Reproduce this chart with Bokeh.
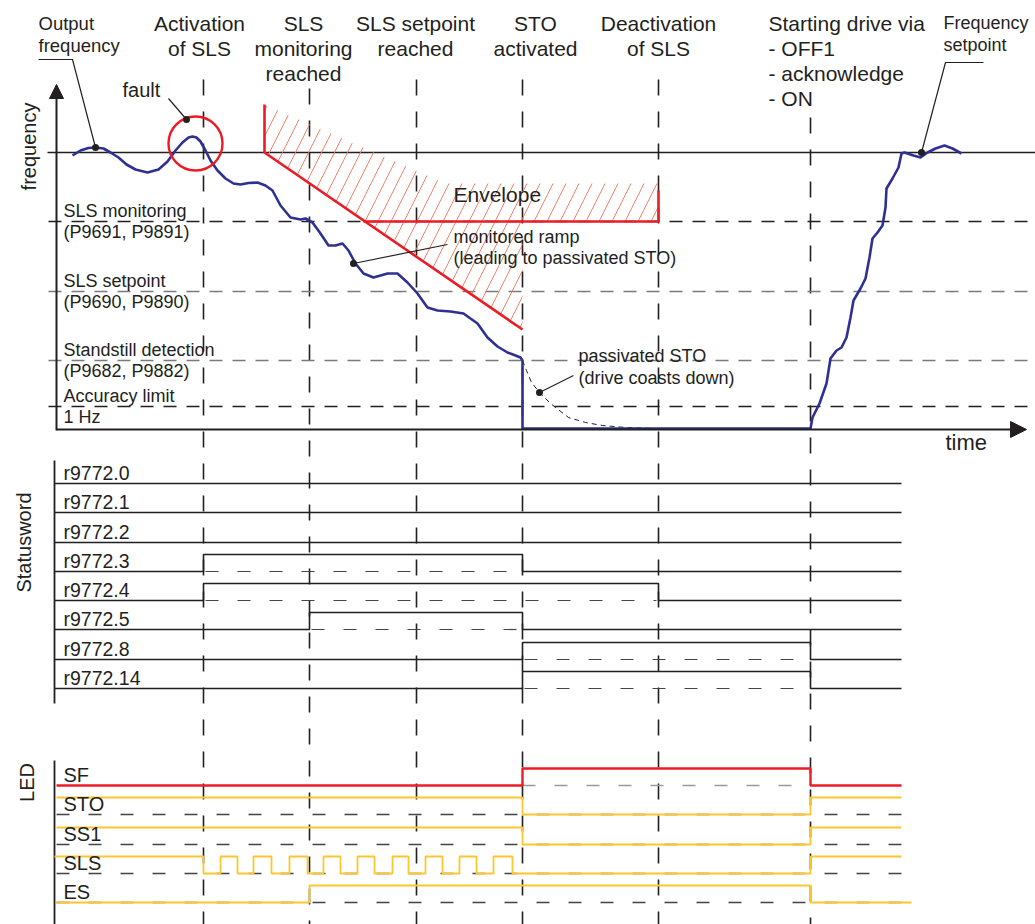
import numpy as np
from bokeh.plotting import figure
from bokeh.models import Range1d, Arrow, NormalHead
from bokeh.core.properties import value
from bokeh.embed import file_html
from bokeh.resources import INLINE

FONT = "Liberation Sans"
TXT = "#231f20"
BLUE = "#2e3192"
RED = "#ed1c24"
YEL = "#fdc52f"
HATCH = "#f47458"

# ---------------- data ----------------
# event instants on the time axis
event_t = [203, 309, 416, 522, 658, 810]
event_start = [79, 88, 79, 79, 79, 117]
t_axis = 56
t_stop = 901

# output frequency trace (time, frequency level)
freq_t = [72, 80, 88, 95, 103, 110, 118, 126, 135, 147, 158, 167, 175, 182, 188, 192, 196, 200,
          205, 210, 217, 225, 233, 240, 248, 257, 265, 272, 280, 290, 300, 305, 312, 320, 328,
          335, 342, 348, 355, 363, 373, 387, 397, 407, 417, 427, 437, 450, 463, 477, 487, 497,
          507, 515, 520, 522, 522, 810, 812, 819, 826, 830, 836, 841, 846, 850, 853, 860, 865,
          869, 872, 877, 882, 885, 886, 892, 898, 901, 904, 913, 920, 927, 935, 944, 952, 961]
freq_f = [155, 150, 147.5, 147, 148, 152, 157, 164, 169, 172, 169, 161, 150, 142, 137, 136, 137,
          141, 150, 160, 170, 178, 183, 184, 182.5, 182, 185, 190, 205, 217, 219, 218, 222, 233,
          245, 245, 243, 250, 263, 273, 277, 273, 273, 282, 293, 307, 310, 311, 313, 323, 337,
          346, 352, 355, 357, 360, 428, 428, 417, 403, 383, 358, 350, 347, 337, 317, 300, 288,
          278, 257, 238, 232, 225, 207, 188, 178, 167, 153, 152, 155, 157, 152, 148, 145, 148, 153]

# coasting (passivated STO)
coast_t = [522, 526, 531, 539, 550, 568, 585, 602, 625, 655]
coast_f = [360, 370, 382, 392, 403, 417, 422, 425, 427, 428]

# frequency levels
f_output = 152
level_names = [["SLS monitoring", "(P9691, P9891)"], ["SLS setpoint", "(P9690, P9890)"],
               ["Standstill detection", "(P9682, P9882)"], ["Accuracy limit", "1 Hz"]]
level_f = [221, 291, 360, 406]
level_col = ["#231f20", "#7a7a7a", "#7a7a7a", "#231f20"]
f_zero = 429

# envelope (monitored ramp)
ramp_t = [264, 264, 522]
ramp_f = [104, 152, 329]
env_t = [363, 658, 658]
env_f = [221, 221, 190]
hatch_t = [264, 445, 658, 658, 522, 522, 264]
hatch_f = [104, 183, 183, 221, 221, 329, 152]

# statusword
status_labels = ["r9772.0", "r9772.1", "r9772.2", "r9772.3", "r9772.4", "r9772.5", "r9772.8", "r9772.14"]
status_row = [483, 512, 542, 571, 600, 629, 659, 688]
status_on = [None, None, None, (203, 522), (203, 658), (309, 522), (522, 810), (522, 810)]
hi = 17

# LEDs: transitions (time, state)
led_labels = ["SF", "STO", "SS1", "SLS", "ES"]
led_row = [785, 814, 844, 873, 902]
led_steps = [
    [(56, 0), (522, 1), (810, 0)],
    [(56, 1), (522, 0), (810, 1)],
    [(56, 1), (522, 0), (810, 1)],
    [(54, 1), (203, 0), (220, 1), (237, 0), (253, 1), (271, 0), (289, 1), (307, 0), (323, 1),
     (340, 0), (357, 1), (374, 0), (392, 1), (408, 0), (425, 1), (442, 0), (459, 1), (476, 0),
     (493, 1), (512, 0), (810, 1)],
    [(56, 0), (309, 1), (810, 0)],
]
led_end = [901, 901, 901, 901, 911]

# ---------------- figure ----------------
W, H = 1035, 924
p = figure(width=W, height=H, x_range=Range1d(0, W), y_range=Range1d(H, 0),
           output_backend="svg", toolbar_location=None, x_axis_location=None,
           y_axis_location=None, min_border=0)
p.grid.visible = False
p.outline_line_color = None
p.background_fill_color = "white"


def txt(xs, ys, texts, size, align="left", baseline="alphabetic", angle=0.0, color=TXT):
    if baseline == "alphabetic":
        ys = [y - 0.38 * size for y in ys]
    p.text(x=xs, y=ys, text=texts, text_font=value(FONT), text_font_size=f"{size}px",
           text_align=align, text_baseline=baseline, text_color=color, angle=angle)


# event dashed verticals
p.multi_line(xs=[[t, t] for t in event_t], ys=[[s, 930] for s in event_start],
             line_color="#231f20", line_width=1.6, line_dash="16 16")

# frequency level dashed lines
for f, c in zip(level_f, level_col):
    p.line([48, 1032], [f, f], line_color=c, line_width=1.3, line_dash="13 10")
p.line([47, 1035], [f_output, f_output], line_color="#231f20", line_width=1.3)

# hatch envelope
p.patch(hatch_t, hatch_f, fill_alpha=0, line_color=None, hatch_pattern="/",
        hatch_color=HATCH, hatch_scale=26, hatch_weight=0.9)
p.line(ramp_t, ramp_f, line_color=RED, line_width=2.6)
p.line(env_t, env_f, line_color=RED, line_width=2.6)

# coast dashed
p.line(coast_t, coast_f, line_color="#231f20", line_width=1, line_dash="5 4")

# frequency trace
p.line(freq_t, freq_f, line_color=BLUE, line_width=2.6, line_join="round")

# fault circle
p.circle(x=[195], y=[143], radius=27, fill_color=None, line_color=RED, line_width=2.4)

# axes with arrows
p.add_layout(Arrow(end=NormalHead(size=14, fill_color="#231f20", line_color="#231f20"),
                   x_start=t_axis, y_start=f_zero + 1, x_end=t_axis, y_end=84,
                   line_width=2, line_color="#231f20"))
p.add_layout(Arrow(end=NormalHead(size=16, fill_color="#231f20", line_color="#231f20"),
                   x_start=t_axis, y_start=f_zero, x_end=1026, y_end=f_zero,
                   line_width=2, line_color="#231f20"))

# leader lines and dots
p.multi_line(xs=[[38, 72, 95], [168, 186], [353, 447], [539, 573], [921, 945, 983]],
             ys=[[59, 59, 147], [98, 119], [263, 244], [392, 375], [152, 62, 62]],
             line_color="#231f20", line_width=1.2)
p.scatter(x=[95, 186, 353, 539, 921], y=[147, 119, 263, 392, 152], size=7,
          fill_color="#231f20", line_color=None)

# statusword
p.line([54, 54], [460, 703], line_color="#231f20", line_width=1.8)
for lab, y0, on in zip(status_labels, status_row, status_on):
    if on is None:
        xs, ys = [54, t_stop], [y0, y0]
    else:
        a, b = on
        xs = [54, a, a, b, b, t_stop]
        ys = [y0, y0, y0 - hi, y0 - hi, y0, y0]
        p.line([a + 2, b - 2], [y0, y0], line_color="#444444", line_width=1.2, line_dash="13 19")
    p.line(xs, ys, line_color="#231f20", line_width=1.6)

# LEDs
p.line([54, 54], [760, 930], line_color="#231f20", line_width=1.8)
for i, (lab, y0, steps, xe) in enumerate(zip(led_labels, led_row, led_steps, led_end)):
    if i == 0:
        p.line([522, 810], [y0, y0], line_color="#9a9a9a", line_width=1.6, line_dash="13 19")
    else:
        p.line([56, t_stop], [y0, y0], line_color="#444444", line_width=1.6, line_dash="13 19")
    xs, ys = [], []
    for k, (t, s) in enumerate(steps):
        t_next = steps[k + 1][0] if k + 1 < len(steps) else xe
        lvl = y0 - hi * s
        xs += [t, t_next]
        ys += [lvl, lvl]
    col = RED if i == 0 else YEL
    p.line(xs, ys, line_color=col, line_width=2.4 if i == 0 else 1.8)

# ---------------- texts ----------------
txt([199, 199], [31, 56], ["Activation", "of SLS"], 21, "center")
txt([303, 303, 303], [31, 56, 81], ["SLS", "monitoring", "reached"], 21, "center")
txt([415, 415], [31, 56], ["SLS setpoint", "reached"], 21, "center")
txt([535, 535], [31, 56], ["STO", "activated"], 21, "center")
txt([658, 658], [31, 56], ["Deactivation", "of SLS"], 21, "center")
txt([768] * 4, [31, 56, 81, 106], ["Starting drive via", "- OFF1", "- acknowledge", "- ON"], 21)
txt([38, 38], [30, 52], ["Output", "frequency"], 18.5)
txt([943, 943], [29, 51], ["Frequency", "setpoint"], 18)
txt([122], [97], ["fault"], 20)
txt([453], [202], ["Envelope"], 21)
txt([453, 453], [243, 264], ["monitored ramp", "(leading to passivated STO)"], 18)
txt([578, 578], [362, 384], ["passivated STO", "(drive coasts down)"], 18)
txt([945], [450], ["time"], 22)
txt([28], [146], ["frequency"], 20, "center", "middle", np.pi / 2)

lvl_x, lvl_y, lvl_s = [], [], []
for names, f in zip(level_names, level_f):
    lvl_x += [63, 63]
    lvl_y += [f - 4, f + 17]
    lvl_s += names
txt(lvl_x, lvl_y, lvl_s, 18)

txt([63] * len(status_labels), [y - 3 for y in status_row], status_labels, 19.5)
txt([23], [542], ["Statusword"], 20, "center", "middle", np.pi / 2)
txt([63] * len(led_labels), [y - 3 for y in led_row], led_labels, 20)
txt([26], [782], ["LED"], 20, "center", "middle", np.pi / 2)

open("out.html", "w").write(file_html(p, INLINE))
